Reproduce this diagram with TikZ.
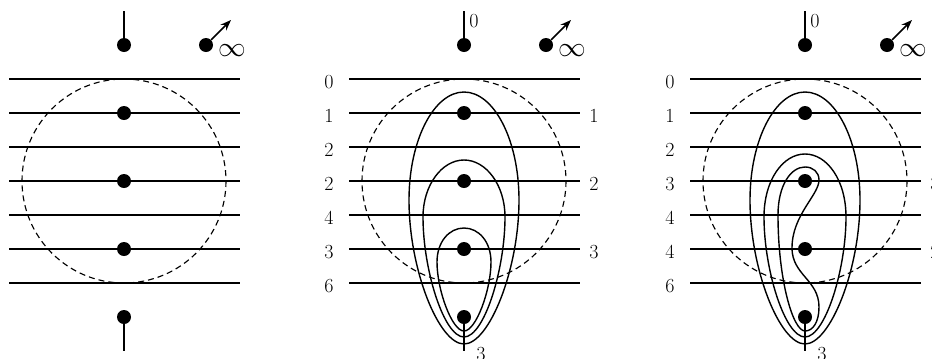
\documentclass[tikz,border=0pt]{standalone}
\usepackage{amsmath}
\usepackage{amssymb}
\usetikzlibrary{
	arrows.meta,
	positioning
}

\begin{document}
\begin{tikzpicture}[
			x=0.75pt, y=-0.75pt,
			font=\fontsize{15}{17}\selectfont,
			point/.style={circle, fill=black, draw=none, inner sep=0pt, minimum size=10.5pt},
			chiffre/.style={inner sep=0pt},
			infini/.style={inner sep=0pt, font=\fontsize{21}{22}\selectfont},
			>={Stealth[length=8pt, width=6pt]},
			niveau/.style={line width=1.1pt},
			tige/.style={line width=1pt},
			courbe/.style={line width=1.05pt},
			cercle/.style={line width=0.85pt, dash pattern=on 4.5pt off 3pt},
			cadre/.pic={
				\coordinate (h) at (0,11);
				\coordinate (b) at (0,351);
				\coordinate (f) at (107,20);
				\coordinate (g1) at (-115,79);
				\coordinate (d1) at (116,79);
				\coordinate (g2) at (-115,113);
				\coordinate (d2) at (116,113);
				\coordinate (g3) at (-115,147);
				\coordinate (d3) at (116,147);
				\coordinate (g4) at (-115,181);
				\coordinate (d4) at (116,181);
				\coordinate (g5) at (-115,215);
				\coordinate (d5) at (116,215);
				\coordinate (g6) at (-115,249);
				\coordinate (d6) at (116,249);
				\coordinate (g7) at (-115,283);
				\coordinate (d7) at (116,283);
				\draw[niveau] (g1) -- (d1);
				\draw[niveau] (g2) -- (d2);
				\draw[niveau] (g3) -- (d3);
				\draw[niveau] (g4) -- (d4);
				\draw[niveau] (g5) -- (d5);
				\draw[niveau] (g6) -- (d6);
				\draw[niveau] (g7) -- (d7);
				\draw[cercle] (0,181) circle (102);
				\node[point] (p0) at (0,45) {};
				\node[point] (p1) at (0,113) {};
				\node[point] (p2) at (0,181) {};
				\node[point] (p3) at (0,249) {};
				\node[point] (p4) at (0,317) {};
				\node[point] (pi) at (82,45) {};
				\node[infini] (inf) at (108,51) {$\infty$};
				\draw[tige] (p0) -- (h);
				\draw[tige] (p4) -- (b);
				\draw[->, line width=1.2pt] (pi) -- (f);
			}
		]

		\useasboundingbox (0,0) rectangle (932,358);

		% gauche
		\pic (a) at (124,0) {cadre};

		% milieu
		\begin{scope}[shift={(464,0)}]
			\pic (m) at (0,0) {cadre};
			\node[chiffre] (mh) at (10,21) {0};
			\node[chiffre] (mb) at (17,354) {3};
			\node[chiffre] (mg1) at (-135,82) {0};
			\node[chiffre] (mg2) at (-135,116) {1};
			\node[chiffre] (mg3) at (-135,150) {2};
			\node[chiffre] (mg4) at (-135,184) {2};
			\node[chiffre] (mg5) at (-135,218) {4};
			\node[chiffre] (mg6) at (-135,252) {3};
			\node[chiffre] (mg7) at (-135,286) {6};
			\node[chiffre] (md2) at (130,116) {1};
			\node[chiffre] (md4) at (130,184) {2};
			\node[chiffre] (md6) at (130,252) {3};

			\draw[courbe] (0,344) .. controls (25,344) and (55,270) .. (55,200)
				.. controls (55,140) and (30,92) .. (0,92)
				.. controls (-30,92) and (-55,140) .. (-55,200)
				.. controls (-55,270) and (-25,344) .. (0,344) -- cycle;
			\draw[courbe] (0,337) .. controls (20,337) and (41,270) .. (41,217)
				.. controls (41,185) and (22,160) .. (0,160)
				.. controls (-22,160) and (-41,185) .. (-41,217)
				.. controls (-41,270) and (-20,337) .. (0,337) -- cycle;
			\draw[courbe] (0,331) .. controls (12,331) and (27,290) .. (27,262)
				.. controls (27,242) and (15,228) .. (0,228)
				.. controls (-15,228) and (-27,242) .. (-27,262)
				.. controls (-27,290) and (-12,331) .. (0,331) -- cycle;
		\end{scope}

		% droite
		\begin{scope}[shift={(805,0)}]
			\pic (r) at (0,0) {cadre};
			\node[chiffre] (rh) at (10,21) {0};
			\node[chiffre] (rb) at (17,354) {3};
			\node[chiffre] (rg1) at (-135,82) {0};
			\node[chiffre] (rg2) at (-135,116) {1};
			\node[chiffre] (rg3) at (-135,150) {2};
			\node[chiffre] (rg4) at (-135,184) {3};
			\node[chiffre] (rg5) at (-135,218) {4};
			\node[chiffre] (rg6) at (-135,252) {4};
			\node[chiffre] (rg7) at (-135,286) {6};
			\node[chiffre] (rd2) at (130,116) {1};
			\node[chiffre] (rd4) at (130,184) {3};
			\node[chiffre] (rd6) at (130,252) {2};

			\draw[courbe] (0,344) .. controls (25,344) and (55,270) .. (55,200)
				.. controls (55,140) and (30,92) .. (0,92)
				.. controls (-30,92) and (-55,140) .. (-55,200)
				.. controls (-55,270) and (-25,344) .. (0,344) -- cycle;
			\draw[courbe] (0,337) .. controls (20,337) and (41,270) .. (41,217)
				.. controls (41,180) and (22,154) .. (0,154)
				.. controls (-22,154) and (-41,180) .. (-41,217)
				.. controls (-41,270) and (-20,337) .. (0,337) -- cycle;
			\draw[courbe] (0,331) .. controls (-12,331) and (-27,280) .. (-27,215)
				.. controls (-27,185) and (-14,167) .. (0,167)
				.. controls (8,167) and (14,172) .. (14,180)
				.. controls (14,195) and (-13,215) .. (-13,248)
				.. controls (-13,275) and (14,280) .. (14,307)
				.. controls (14,322) and (8,331) .. (0,331) -- cycle;
		\end{scope}
	\end{tikzpicture}
\end{document}
